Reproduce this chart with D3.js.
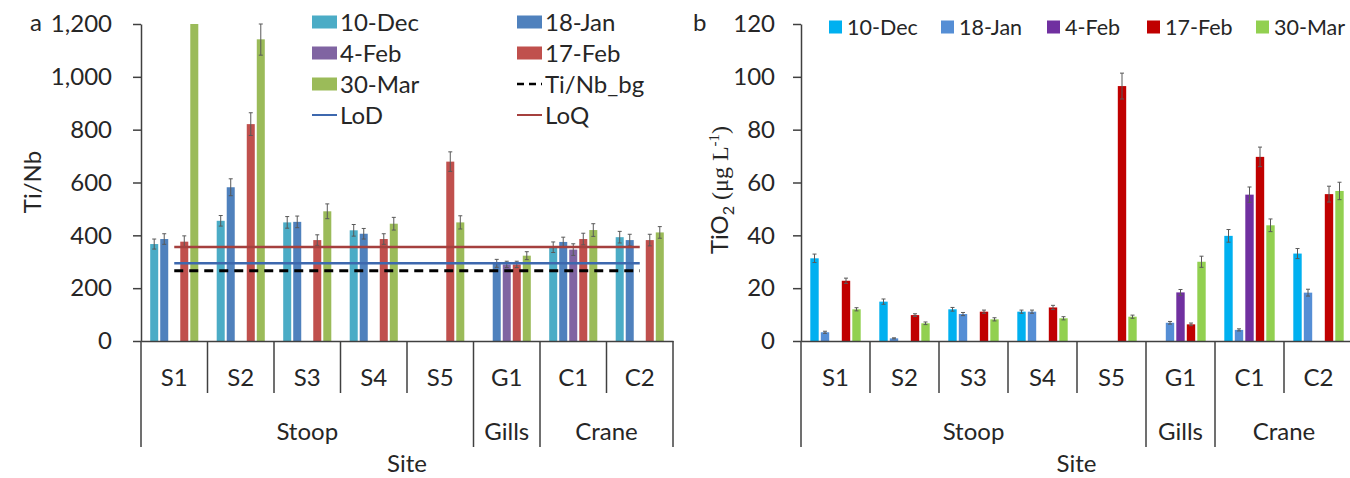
<!DOCTYPE html>
<html>
<head>
<meta charset="utf-8">
<script src="https://cdn.jsdelivr.net/npm/d3@7"></script>
<style>
  body { margin: 0; background: #fff; }
  text { font-family: Lato, "Open Sans", sans-serif; fill: #262626; }
</style>
</head>
<body>
<div id="chart"></div>
<script>
// categories
const sites = ["S1", "S2", "S3", "S4", "S5", "G1", "C1", "C2"];
const siteGroups = ["Stoop", "Stoop", "Stoop", "Stoop", "Stoop", "Gills", "Crane", "Crane"];
const dates = ["10-Dec", "18-Jan", "4-Feb", "17-Feb", "30-Mar"];

// panel a: Ti/Nb ratio (null = no sample)
const tiNb10Dec = [367, 455, 449, 419, null, null, 355, 393];
const tiNb18Jan = [386, 582, 451, 406, null, 294, 375, 382];
const tiNb4Feb  = [null, null, null, null, null, 290, 346, null];
const tiNb17Feb = [376, 821, 382, 386, 679, 290, 386, 382];
const tiNb30Mar = [1200, 1142, 491, 444, 449, 323, 420, 411];
const tiNbErr10Dec = [19, 20, 22, 22, null, null, 20, 22];
const tiNbErr18Jan = [20, 32, 22, 20, null, 15, 18, 22];
const tiNbErr4Feb  = [null, null, null, null, null, 12, 22, null];
const tiNbErr17Feb = [22, 43, 20, 20, 37, 12, 22, 22];
const tiNbErr30Mar = [0, 60, 28, 24, 25, 15, 24, 22];
const tiNbLoD = 294;
const tiNbLoQ = 356;
const tiNbBg = 266;
const tiNbTicks = [0, 200, 400, 600, 800, 1000, 1200];

// panel b: TiO2 (ug/L)
const tio2_10Dec = [31.3, 14.9, 12.0, 11.1, null, null, 39.8, 33.1];
const tio2_18Jan = [3.3, 1.0, 10.2, 11.1, null, 6.9, 4.2, 18.3];
const tio2_4Feb  = [null, null, null, null, null, 18.4, 55.4, null];
const tio2_17Feb = [22.8, 9.8, 11.1, 12.7, 96.5, 6.3, 69.7, 55.6];
const tio2_30Mar = [12.0, 6.7, 8.2, 8.6, 9.2, 30.0, 43.8, 56.8];
const tio2Err10Dec = [1.6, 1.0, 0.7, 0.6, null, null, 2.4, 1.9];
const tio2Err18Jan = [0.4, 0.2, 0.6, 0.6, null, 0.5, 0.4, 1.3];
const tio2Err4Feb  = [null, null, null, null, null, 1.1, 2.9, null];
const tio2Err17Feb = [1.0, 0.5, 0.6, 0.8, 4.9, 0.5, 3.7, 3.0];
const tio2Err30Mar = [0.6, 0.5, 0.6, 0.6, 0.6, 2.1, 2.4, 3.3];
const tio2Ticks = [0, 20, 40, 60, 80, 100, 120];

const svg = d3.select("#chart")
    .append("svg")
    .attr("width", 1350)
    .attr("height", 478);

const axisColor = "#404040";
const fontSize = "24px";

const drawPanel = (p) => {
    const g = svg.append("g");
    const yTop = 24, yBase = 341;

    const x0 = d3.scaleBand()
        .domain(sites)
        .range(p.xRange)
        .padding(0);

    const x1 = d3.scaleBand()
        .domain(dates)
        .range([p.groupPad, x0.bandwidth() - p.groupPad])
        .paddingInner(0.2)
        .paddingOuter(0.1);

    const y = d3.scaleLinear()
        .domain([0, d3.max(p.ticks)])
        .range([yBase, yTop]);

    const color = d3.scaleOrdinal()
        .domain(dates)
        .range(p.colors);

    // y axis
    const ya = g.append("g")
        .attr("transform", `translate(${p.xRange[0]},0)`)
        .call(d3.axisLeft(y)
            .tickValues(p.ticks)
            .tickSize(8)
            .tickSizeOuter(0)
            .tickPadding(p.tickPad)
            .tickFormat(p.fmt));
    ya.select(".domain").attr("stroke", axisColor).attr("stroke-width", 1.5);
    ya.selectAll(".tick line").attr("stroke", axisColor).attr("stroke-width", 1.5);
    ya.selectAll("text").style("font-size", fontSize);

    // bars
    const barData = [];
    sites.forEach((s, i) => {
        dates.forEach((d, j) => {
            const v = p.values[j][i];
            if (v != null) barData.push({ site: s, date: d, v: v, e: p.errors[j][i] || 0 });
        });
    });

    g.append("g").selectAll("rect")
        .data(barData)
        .join("rect")
        .attr("x", d => x0(d.site) + x1(d.date))
        .attr("y", d => y(d.v))
        .attr("width", x1.bandwidth())
        .attr("height", d => y(0) - y(d.v))
        .attr("fill", d => color(d.date));

    // error bars
    const eb = g.append("g")
        .attr("stroke", "#595959")
        .attr("stroke-width", 1)
        .selectAll("g")
        .data(barData.filter(d => d.e > 0))
        .join("g")
        .attr("transform", d => `translate(${x0(d.site) + x1(d.date) + x1.bandwidth() / 2},0)`);
    eb.append("line")
        .attr("y1", d => y(d.v - d.e))
        .attr("y2", d => Math.max(yTop, y(d.v + d.e)));
    eb.append("line")
        .attr("x1", -2).attr("x2", 2)
        .attr("y1", d => Math.max(yTop, y(d.v + d.e)))
        .attr("y2", d => Math.max(yTop, y(d.v + d.e)));
    eb.append("line")
        .attr("x1", -2).attr("x2", 2)
        .attr("y1", d => y(d.v - d.e))
        .attr("y2", d => y(d.v - d.e));

    // reference lines (drawn across the category centres)
    (p.refLines || []).forEach(r => {
        const line = d3.line()
            .x(s => x0(s) + x0.bandwidth() / 2)
            .y(() => y(r.value));
        g.append("path")
            .attr("d", line(sites))
            .attr("fill", "none")
            .attr("stroke", r.color)
            .attr("stroke-width", r.width)
            .attr("stroke-dasharray", r.dash || null);
    });

    // category axis (multi-level)
    const xa = g.append("g")
        .attr("transform", `translate(0,${yBase})`)
        .call(d3.axisBottom(x0).tickSize(0).tickSizeOuter(0).tickPadding(28));
    xa.select(".domain").attr("stroke", axisColor).attr("stroke-width", 1.5);
    xa.selectAll("text").style("font-size", fontSize);

    const bounds = sites.map((s, i) => ({
        x: x0(s),
        edge: i === 0 || siteGroups[i] !== siteGroups[i - 1]
    }));
    bounds.push({ x: p.xRange[1], edge: true });

    g.append("g").selectAll("line")
        .data(bounds)
        .join("line")
        .attr("x1", d => d.x).attr("x2", d => d.x)
        .attr("y1", yBase)
        .attr("y2", d => d.edge ? 447 : 393)
        .attr("stroke", axisColor)
        .attr("stroke-width", 1.5);

    // group labels
    const groups = [];
    siteGroups.forEach((gName, i) => {
        const last = groups[groups.length - 1];
        if (last && last.name === gName) last.end = i;
        else groups.push({ name: gName, start: i, end: i });
    });
    g.append("g").selectAll("text")
        .data(groups)
        .join("text")
        .attr("x", d => (x0(sites[d.start]) + x0(sites[d.end]) + x0.bandwidth()) / 2)
        .attr("y", 440)
        .attr("text-anchor", "middle")
        .style("font-size", fontSize)
        .text(d => d.name);

    g.append("text")
        .attr("x", (p.xRange[0] + Math.min(p.xRange[1], 1350)) / 2 + p.siteShift)
        .attr("y", 472)
        .attr("text-anchor", "middle")
        .style("font-size", fontSize)
        .text("Site");

    // panel letter
    g.append("text")
        .attr("x", p.letterX)
        .attr("y", 31)
        .style("font-size", fontSize)
        .text(p.letter);

    return { g, color };
};

// ---- panel a ----
const a = drawPanel({
    xRange: [141, 673],
    groupPad: 8.2,
    ticks: tiNbTicks,
    fmt: d3.format(","),
    tickPad: 21,
    values: [tiNb10Dec, tiNb18Jan, tiNb4Feb, tiNb17Feb, tiNb30Mar],
    errors: [tiNbErr10Dec, tiNbErr18Jan, tiNbErr4Feb, tiNbErr17Feb, tiNbErr30Mar],
    colors: ["#4BACC6", "#4F81BD", "#8064A2", "#C0504D", "#9BBB59"],
    refLines: [
        { value: tiNbLoQ, color: "#A5403E", width: 2.5 },
        { value: tiNbLoD, color: "#3D68AE", width: 2.5 },
        { value: tiNbBg, color: "#000", width: 3, dash: "9,6" }
    ],
    siteShift: 0,
    letter: "a",
    letterX: 30
});

a.g.append("text")
    .attr("transform", "translate(33,182) rotate(-90)")
    .attr("text-anchor", "middle")
    .attr("dy", "0.35em")
    .style("font-size", fontSize)
    .text("Ti/Nb");

// legend a (two columns)
const legendA = [
    { label: "10-Dec", type: "rect", color: a.color("10-Dec") },
    { label: "18-Jan", type: "rect", color: a.color("18-Jan") },
    { label: "4-Feb", type: "rect", color: a.color("4-Feb") },
    { label: "17-Feb", type: "rect", color: a.color("17-Feb") },
    { label: "30-Mar", type: "rect", color: a.color("30-Mar") },
    { label: "Ti/Nb_bg", type: "dash", color: "#000" },
    { label: "LoD", type: "line", color: "#3D68AE" },
    { label: "LoQ", type: "line", color: "#A5403E" }
];
const legA = a.g.append("g").selectAll("g")
    .data(legendA)
    .join("g")
    .attr("transform", (d, i) => `translate(${i % 2 === 0 ? 312 : 517},${22 + Math.floor(i / 2) * 31})`);
legA.filter(d => d.type === "rect").append("rect")
    .attr("x", 0).attr("y", -6.5).attr("width", 25).attr("height", 13)
    .attr("fill", d => d.color);
legA.filter(d => d.type !== "rect").append("line")
    .attr("x1", 0).attr("x2", 25)
    .attr("stroke", d => d.color)
    .attr("stroke-width", d => d.type === "dash" ? 2.5 : 2)
    .attr("stroke-dasharray", d => d.type === "dash" ? "7,5" : null);
legA.append("text")
    .attr("x", 28)
    .attr("y", 8.5)
    .style("font-size", fontSize)
    .text(d => d.label);

// ---- panel b ----
const b = drawPanel({
    xRange: [801, 1353],
    groupPad: 8.25,
    ticks: tio2Ticks,
    fmt: d3.format("d"),
    tickPad: 18,
    values: [tio2_10Dec, tio2_18Jan, tio2_4Feb, tio2_17Feb, tio2_30Mar],
    errors: [tio2Err10Dec, tio2Err18Jan, tio2Err4Feb, tio2Err17Feb, tio2Err30Mar],
    colors: ["#00B0F0", "#558ED5", "#7030A0", "#C00000", "#92D050"],
    refLines: [],
    siteShift: 1,
    letter: "b",
    letterX: 693
});

const yTitle = b.g.append("text")
    .attr("transform", "translate(720,190) rotate(-90)")
    .attr("text-anchor", "middle")
    .attr("dy", "0.35em")
    .style("font-size", fontSize);
yTitle.append("tspan").text("TiO");
yTitle.append("tspan").attr("dy", 6).style("font-size", "16px").text("2");
yTitle.append("tspan").attr("dy", -6)
    .style("font-family", "'Liberation Serif', serif")
    .text(" (μg L");
yTitle.append("tspan").attr("dy", -9).style("font-size", "15px")
    .style("font-family", "'Liberation Serif', serif").text("-1");
yTitle.append("tspan").attr("dy", 9)
    .style("font-family", "'Liberation Serif', serif").text(")");

// legend b (single row)
const legBx = [829, 941, 1047, 1147, 1256];
const legB = b.g.append("g").selectAll("g")
    .data(dates)
    .join("g")
    .attr("transform", (d, i) => `translate(${legBx[i]},27)`);
legB.append("rect")
    .attr("x", 0).attr("y", -6.5).attr("width", 13).attr("height", 13)
    .attr("fill", d => b.color(d));
legB.append("text")
    .attr("x", 18).attr("y", 7.5)
    .style("font-size", "21.5px")
    .text(d => d);
</script>
</body>
</html>
